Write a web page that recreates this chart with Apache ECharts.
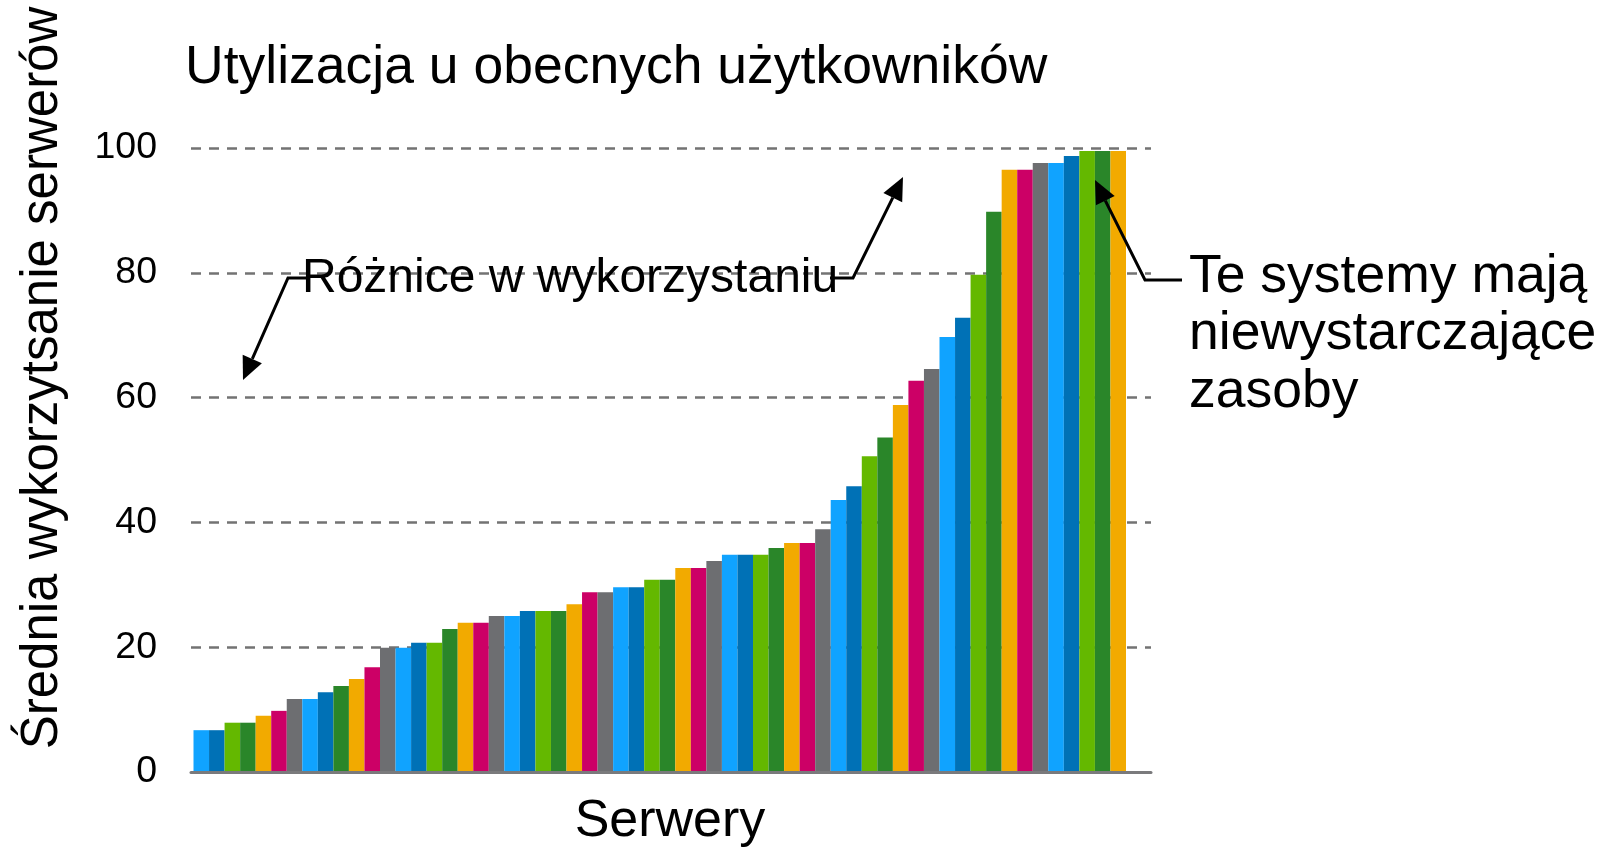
<!DOCTYPE html>
<html>
<head>
<meta charset="utf-8">
<script src="https://cdn.jsdelivr.net/npm/echarts@6/dist/echarts.min.js"></script>
<style>
html,body{margin:0;padding:0;background:#fff;}
#chart{width:1614px;height:850px;}
</style>
</head>
<body>
<div id="chart"></div>
<script>
// ---- data ----
const servers = Array.from({length: 60}, (_, i) => 'S' + (i + 1));
const utilization = [
  6.7, 6.7, 7.9, 7.9, 9.0, 9.8, 11.7, 11.7, 12.8, 13.8,
  14.9, 16.8, 19.9, 19.9, 20.7, 20.7, 22.9, 23.9, 23.9, 25.0,
  25.0, 25.8, 25.8, 25.8, 26.9, 28.8, 28.8, 29.6, 29.6, 30.8,
  30.8, 32.7, 32.7, 33.8, 34.8, 34.8, 34.8, 35.9, 36.7, 36.7,
  38.9, 43.6, 45.8, 50.6, 53.6, 58.8, 62.7, 64.6, 69.7, 72.8,
  79.7, 89.8, 96.5, 96.5, 97.6, 97.6, 98.7, 99.5, 99.5, 99.5
];
const colorKeys = [
  'LB','DB','LG','DG','O','M','G',
  'LB','DB','DG','O','M','G',
  'LB','DB','LG','DG','O','M','G',
  'LB','DB','LG','DG','O','M','G',
  'LB','DB','LG','DG','O','M','G',
  'LB','DB','LG','DG','O','M','G',
  'LB','DB','LG','DG','O','M','G',
  'LB','DB','LG','DG','O','M','G',
  'LB','DB','LG','DG','O'
];
const yTicks = [0, 20, 40, 60, 80, 100];
const titleText = 'Utylizacja u obecnych użytkowników';
const yAxisTitle = 'Średnia wykorzytsanie serwerów';
const xAxisTitle = 'Serwery';
const noteLeft = 'Różnice w wykorzystaniu';
const noteRight = ['Te systemy mają', 'niewystarczające', 'zasoby'];

// ---- styles ----
const palette = {
  LB: '#10A3FF', DB: '#0071B6', LG: '#64B800', DG: '#2A8629',
  O: '#F2AA00', M: '#CC0066', G: '#6D6E71'
};
const FONT = '"Liberation Sans", Arial, Helvetica, sans-serif';

function leader(pts) {
  const n = pts.length;
  const [tx, ty] = pts[n - 1];
  const [px, py] = pts[n - 2];
  const dx = tx - px, dy = ty - py, L = Math.hypot(dx, dy);
  const ux = dx / L, uy = dy / L;
  const len = 23, hw = 10.5;
  const bx = tx - ux * len, by = ty - uy * len;
  const line = pts.slice(0, n - 1).concat([[bx, by]]);
  return [
    {type: 'polyline', z: 100, shape: {points: line},
     style: {stroke: '#000', lineWidth: 3, fill: 'none'}},
    {type: 'polygon', z: 100,
     shape: {points: [[tx, ty], [bx - uy * hw, by + ux * hw], [bx + uy * hw, by - ux * hw]]},
     style: {fill: '#000'}}
  ];
}

function txt(text, x, y, size, align, extra) {
  return Object.assign({
    type: 'text', z: 90, x: x, y: y,
    style: {text: text, x: 0, y: 0, fill: '#000',
      font: 'normal ' + size + 'px ' + FONT,
      textAlign: align || 'left', textVerticalAlign: 'middle'}
  }, extra || {});
}

const chart = echarts.init(document.getElementById('chart'), null, {renderer: 'canvas'});

const option = {
  backgroundColor: '#fff',
  animation: false,
  textStyle: {fontFamily: FONT},
  grid: [
    {left: 191, right: 1614 - 1151, top: 148, bottom: 850 - 772},
    {left: 193.5, right: 1614 - 1126, top: 148, bottom: 850 - 772}
  ],
  xAxis: [
    {gridIndex: 0, type: 'category', data: [''], z: 10,
     axisLine: {show: true, lineStyle: {color: '#7a7a7c', width: 3}},
     axisTick: {show: false}, axisLabel: {show: false}, splitLine: {show: false}},
    {gridIndex: 1, type: 'category', data: servers,
     axisLine: {show: false}, axisTick: {show: false}, axisLabel: {show: false}, splitLine: {show: false}}
  ],
  yAxis: [
    {gridIndex: 0, type: 'value', min: yTicks[0], max: yTicks[yTicks.length - 1], interval: 20,
     axisLine: {show: false}, axisTick: {show: false},
     axisLabel: {show: true, color: '#000', fontSize: 37.5, margin: 34, fontFamily: FONT},
     splitLine: {show: true, lineStyle: {color: '#737373', width: 2.6, type: [10, 8]}}},
    {gridIndex: 1, type: 'value', min: yTicks[0], max: yTicks[yTicks.length - 1], interval: 20,
     show: false, splitLine: {show: false}}
  ],
  series: [{
    type: 'bar', xAxisIndex: 1, yAxisIndex: 1,
    barCategoryGap: '0%', barGap: '0%',
    data: utilization.map((v, i) => ({value: v, itemStyle: {color: palette[colorKeys[i]]}}))
  }],
  graphic: [
    txt(titleText, 185, 68, 53.5, 'left'),
    txt(yAxisTitle, 43, 378, 51, 'center', {rotation: Math.PI / 2}),
    txt(xAxisTitle, 670, 822, 52, 'center'),
    txt(noteLeft, 302, 279, 48, 'left'),
    txt(noteRight[0], 1189, 277, 53.5, 'left'),
    txt(noteRight[1], 1189, 334, 53.5, 'left'),
    txt(noteRight[2], 1189, 392, 53.5, 'left'),
    ...leader([[307, 278], [288, 278], [243, 380]]),
    ...leader([[830, 278], [853, 278], [903, 177]]),
    ...leader([[1182, 280], [1145, 280], [1095, 180]])
  ]
};
chart.setOption(option);
</script>
</body>
</html>
